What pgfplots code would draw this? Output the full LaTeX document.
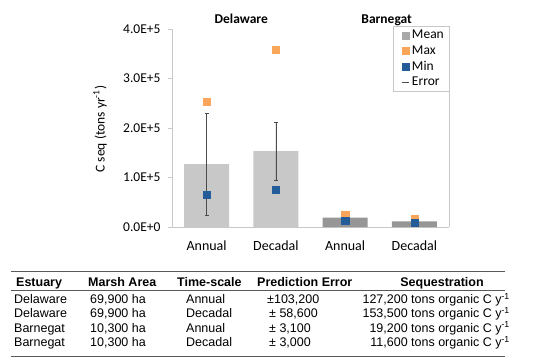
\documentclass[border=0pt]{standalone}
\usepackage{pgfplots}
\pgfplotsset{compat=1.18}
\usepackage{fontspec}
\setmainfont{Carlito}
\newfontfamily\arial{Liberation Sans}
\definecolor{lgrey}{RGB}{200,200,200}
\definecolor{dgrey}{RGB}{150,150,150}
\definecolor{mgrey}{RGB}{168,168,168}
\definecolor{myorange}{RGB}{250,166,90}
\definecolor{myblue}{RGB}{35,92,152}
\definecolor{axgrey}{RGB}{200,200,200}
\begin{document}
\begin{tikzpicture}
\useasboundingbox (0,0) rectangle (550bp,-361bp);
\begin{axis}[
  at={(172bp,-227bp)}, anchor=south west,
  scale only axis, width=277bp, height=198bp,
  xmin=-0.5, xmax=3.5, ymin=0, ymax=400000,
  axis x line*=bottom, axis y line*=left,
  axis line style={axgrey, line width=0.8bp},
  xtick={0,1,2,3}, xticklabels={Annual,Decadal,Annual,Decadal},
  extra x ticks={-0.5,0.5,1.5,2.5,3.5}, extra x tick labels={},
  extra x tick style={major tick length=4bp, tick style={axgrey, line width=0.8bp}},
  x tick style={draw=none},
  x tick label style={font=\fontsize{14bp}{16bp}\selectfont, yshift=-6bp},
  ytick={0,100000,200000,300000,400000},
  yticklabels={0.0E+0,1.0E+5,2.0E+5,3.0E+5,4.0E+5},
  y tick label style={font=\fontsize{13.5bp}{15bp}\selectfont, xshift=-4bp},
  y tick style={axgrey, line width=0.8bp},
  tick align=outside, major tick length=4bp,
  scaled y ticks=false,
  clip=false,
  legend style={at={(rel axis cs:1,1.015)}, anchor=north east, draw=axgrey, font=\fontsize{13.5bp}{14bp}\selectfont,
     row sep=1.2bp, inner xsep=3bp, inner ysep=2bp, cells={anchor=west}, legend cell align=left},
]
\addplot[forget plot, ybar, bar width=45bp, fill=lgrey, draw=none,
  error bars/.cd, y dir=both, y explicit, error bar style={black!70, line width=0.6bp}, error mark options={black!70, mark size=2bp, line width=0.6bp, rotate=90}]
  coordinates {(0,127200) +- (0,103200) (1,153500) +- (0,58600)};
\addplot[forget plot, ybar, bar width=45bp, fill=dgrey, draw=none,
  error bars/.cd, y dir=both, y explicit, error bar style={black!70, line width=0.6bp}, error mark options={black!70, mark size=2bp, line width=0.6bp, rotate=90}]
  coordinates {(2,19200) +- (0,3100) (3,11600) +- (0,3000)};
\addplot[forget plot, only marks, mark=square*, mark size=3.6bp, color=myorange]
  coordinates {(0,253000) (1,358000) (2,24000) (3,17000)};
\addplot[forget plot, only marks, mark=square*, mark size=3.6bp, color=myblue]
  coordinates {(0,66000) (1,75000) (2,13000) (3,9000)};
\addlegendimage{legend image code/.code={\fill[mgrey] (6bp,-3.5bp) rectangle (13bp,3.5bp); \path[draw=none, fill=none] (0bp,0bp) rectangle (14bp,0.1bp);}}
\addlegendentry{Mean}
\addlegendimage{legend image code/.code={\fill[myorange] (6bp,-3.5bp) rectangle (13bp,3.5bp); \path[draw=none, fill=none] (0bp,0bp) rectangle (14bp,0.1bp);}}
\addlegendentry{Max}
\addlegendimage{legend image code/.code={\fill[myblue] (6bp,-3.5bp) rectangle (13bp,3.5bp); \path[draw=none, fill=none] (0bp,0bp) rectangle (14bp,0.1bp);}}
\addlegendentry{Min}
\addlegendimage{legend image code/.code={\draw[black!70, line width=0.8bp] (6bp,0bp) -- (13bp,0bp); \path[draw=none, fill=none] (0bp,0bp) rectangle (14bp,0.1bp);}}
\addlegendentry{Error}
\draw[axgrey, line width=0.8bp] (rel axis cs:1,0) -- (rel axis cs:1,1);
\node[font=\bfseries\fontsize{13.5bp}{15bp}\selectfont, anchor=base] at (axis cs:0.5,412000) {Delaware};
\node[font=\bfseries\fontsize{13.5bp}{15bp}\selectfont, anchor=base] at (axis cs:2.6,412000) {Barnegat};
\end{axis}
\node[rotate=90, anchor=center, font=\fontsize{13.5bp}{15bp}\selectfont] at (100bp,-129bp) {C seq (tons yr\textsuperscript{-1})};
% table
\begin{scope}[every node/.style={inner sep=0pt, font=\arial\fontsize{12.5bp}{14bp}\selectfont}]
\draw[black!65, line width=1.3bp] (11bp,-271.5bp) -- (505bp,-271.5bp);
\draw[black!65, line width=0.5bp] (11bp,-290bp) -- (505bp,-290bp);
\draw[black!65, line width=1.3bp] (11bp,-356.5bp) -- (505bp,-356.5bp);
\node[anchor=base west, font=\arial\bfseries\fontsize{12.5bp}{14bp}\selectfont] at (16bp,-286bp) {Estuary};
\node[anchor=base west, font=\arial\bfseries\fontsize{12.5bp}{14bp}\selectfont] at (88bp,-286bp) {Marsh Area};
\node[anchor=base west, font=\arial\bfseries\fontsize{12.5bp}{14bp}\selectfont] at (177bp,-286bp) {Time-scale};
\node[anchor=base west, font=\arial\bfseries\fontsize{12.5bp}{14bp}\selectfont] at (257bp,-286bp) {Prediction Error};
\node[anchor=base, font=\arial\bfseries\fontsize{12.5bp}{14bp}\selectfont] at (442bp,-286bp) {Sequestration};
% rows
\node[anchor=base west] at (14bp,-303.5bp) {Delaware};
\node[anchor=base west] at (90bp,-303.5bp) {69,900 ha};
\node[anchor=base west] at (186bp,-303.5bp) {Annual};
\node[anchor=base west] at (267bp,-303.5bp) {±103,200};
\node[anchor=base east] at (510bp,-303.5bp) {127,200 tons organic C y\textsuperscript{-1}};
\node[anchor=base west] at (14bp,-317.9bp) {Delaware};
\node[anchor=base west] at (90bp,-317.9bp) {69,900 ha};
\node[anchor=base west] at (186bp,-317.9bp) {Decadal};
\node[anchor=base west] at (269bp,-317.9bp) {± 58,600};
\node[anchor=base east] at (510bp,-317.9bp) {153,500 tons organic C y\textsuperscript{-1}};
\node[anchor=base west] at (14bp,-332.3bp) {Barnegat};
\node[anchor=base west] at (90bp,-332.3bp) {10,300 ha};
\node[anchor=base west] at (186bp,-332.3bp) {Annual};
\node[anchor=base west] at (269bp,-332.3bp) {± 3,100};
\node[anchor=base east] at (510bp,-332.3bp) {19,200 tons organic C y\textsuperscript{-1}};
\node[anchor=base west] at (14bp,-346.8bp) {Barnegat};
\node[anchor=base west] at (90bp,-346.8bp) {10,300 ha};
\node[anchor=base west] at (186bp,-346.8bp) {Decadal};
\node[anchor=base west] at (269bp,-346.8bp) {± 3,000};
\node[anchor=base east] at (510bp,-346.8bp) {11,600 tons organic C y\textsuperscript{-1}};
\end{scope}
\end{tikzpicture}
\end{document}
